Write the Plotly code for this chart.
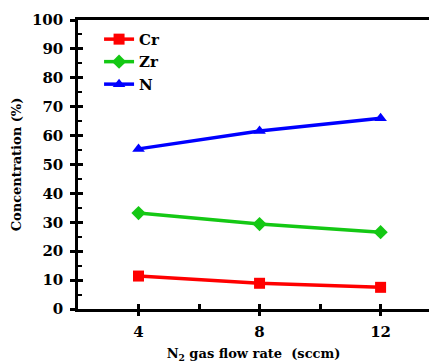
import plotly.graph_objects as go

flow_rate = [4, 8, 12]
cr = [11.4, 8.9, 7.5]
zr = [33.2, 29.4, 26.6]
n = [55.4, 61.6, 66.0]

series = [
    ("Cr", cr, "#ff0000", "square"),
    ("Zr", zr, "#14c814", "diamond"),
    ("N", n, "#0000ff", "triangle-up"),
]

FAM = "DejaVu Serif"

def f(size):
    return dict(family=FAM, size=size, color="black", weight="bold")

fig = go.Figure()
for name, vals, color, sym in series:
    fig.add_trace(go.Scatter(
        x=flow_rate, y=vals, name=name, mode="lines+markers",
        line=dict(color=color, width=3.5),
        marker=dict(symbol=sym, size=11, color=color),
    ))

# invisible trace hosting the overlay axes (inner halves of crossing ticks)
fig.add_trace(go.Scatter(x=flow_rate, y=cr, xaxis="x2", yaxis="y2", mode="markers",
                         marker=dict(opacity=0), showlegend=False, hoverinfo="skip"))

XR = [2, 13.6]
common_x = dict(range=XR, tickvals=[4, 8, 12], showgrid=False, zeroline=False)
common_y = dict(range=[0, 100], dtick=10, showgrid=False, zeroline=False)

fig.update_layout(
    width=429, height=364,
    template="none",
    margin=dict(l=78, r=0, t=20, b=55, autoexpand=False),
    paper_bgcolor="white", plot_bgcolor="white",
    font=f(15),
    showlegend=True,
    legend=dict(x=0.06, y=0.99, xanchor="left", yanchor="top",
                bgcolor="rgba(0,0,0,0)", font=f(15), itemwidth=30),
    xaxis=dict(
        **common_x,
        showline=True, linecolor="black", linewidth=2.5, mirror=True,
        ticks="outside", ticklen=4, tickwidth=2.5, tickcolor="black",
        tickfont=f(15), ticklabelstandoff=3,
        title=dict(text="N<sub>2</sub> gas flow rate  (sccm)", font=f(13), standoff=10),
    ),
    yaxis=dict(
        **common_y,
        showline=True, linecolor="black", linewidth=2.5,
        ticks="outside", ticklen=5, tickwidth=2.5, tickcolor="black",
        tickfont=f(15), ticklabelstandoff=4,
        title=dict(text="Concentration (%)", font=f(13), standoff=8),
    ),
    xaxis2=dict(
        **common_x, overlaying="x", anchor="y", side="bottom",
        showline=False, showticklabels=False,
        ticks="inside", ticklen=5, tickwidth=2.5, tickcolor="black",
        minor=dict(tickvals=[6, 10], ticks="inside", ticklen=5, tickwidth=2.5, tickcolor="black"),
    ),
    yaxis2=dict(
        **common_y, overlaying="y", anchor="x", side="left",
        showline=False, showticklabels=False,
        ticks="inside", ticklen=5, tickwidth=2.5, tickcolor="black",
        minor=dict(dtick=5, ticks="inside", ticklen=4, tickwidth=2, tickcolor="black"),
    ),
)

fig.write_html("out.html", config={"displayModeBar": False},
               post_script="document.body.style.margin='0';document.body.style.overflow='hidden';")
